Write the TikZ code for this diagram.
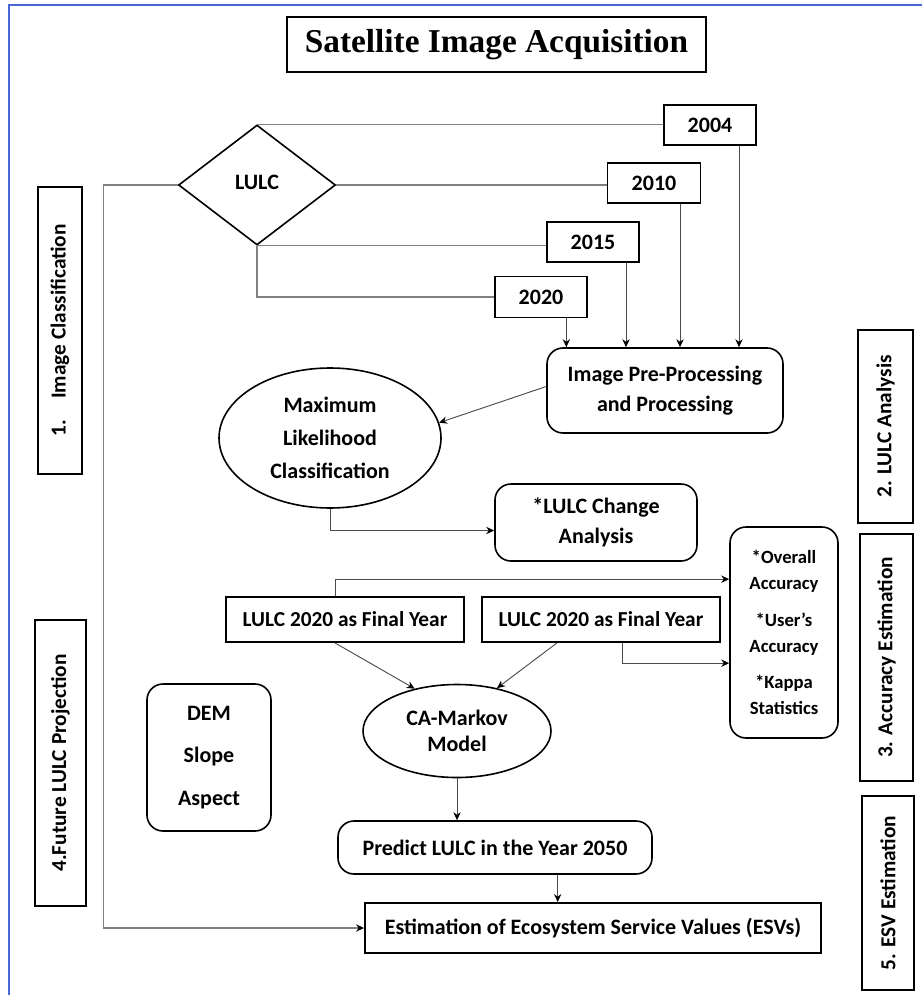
\documentclass[tikz,border=0pt]{standalone}
\usepackage{fontspec}
\setmainfont{Carlito}
\newfontfamily\titlefont{Liberation Serif}
\usetikzlibrary{shapes.geometric,arrows.meta}
\definecolor{framebl}{RGB}{72,104,214}
\newdimen\px
\px=0.75pt

\begin{document}
\begin{tikzpicture}[x=0.75pt,y=-0.75pt,>={Stealth[length=6pt,width=5.5pt,black]},
		box/.style={draw, line width=1.4pt, inner sep=0pt, align=center, font=\fontsize{16.5}{22}\selectfont\bfseries},
		rbox/.style={box, rounded corners=12pt, line width=1.2pt},
		ell/.style={box, ellipse, line width=1.2pt},
		tag/.style={box, rotate=90, line width=1.2pt, font=\fontsize{16}{20}\selectfont\bfseries},
		link/.style={draw=gray, line width=0.9pt},
		arr/.style={draw=black!70, line width=0.7pt, ->}]
		\useasboundingbox (0,0) rectangle (922,995);

		% draw the blue frame
		\draw[framebl, line width=1.5pt] (9,995) -- (9,5) -- (922,5);

		% draw the title
		\node[draw, line width=1.5pt, minimum width=419\px, minimum height=55\px, font=\titlefont\fontsize{25}{30}\selectfont\bfseries] (title) at (496.5,44.5) {Satellite Image Acquisition};

		% draw the lulc diamond and the years
		\node[box, diamond, line width=1.2pt, minimum width=157\px, minimum height=120\px] (lulc) at (257,185) {\raisebox{4pt}{LULC}};
		\node[box, minimum width=92\px, minimum height=40\px] (y2004) at (710,125) {2004};
		\node[box, minimum width=93\px, minimum height=40\px] (y2010) at (654,183) {2010};
		\node[box, minimum width=92\px, minimum height=40\px] (y2015) at (593,242) {2015};
		\node[box, minimum width=92\px, minimum height=41\px] (y2020) at (541,297) {2020};

		% draw the processing steps
		\node[rbox, minimum width=236\px, minimum height=85\px] (prep) at (665,390.5) {Image Pre-Processing\\and Processing};
		\node[ell, minimum width=222\px, minimum height=140\px, font=\fontsize{16.5}{25}\selectfont\bfseries] (mlc) at (330,438) {Maximum\\Likelihood\\Classification};
		\node[rbox, minimum width=202\px, minimum height=77\px] (change) at (596,522.5) {*LULC Change\\Analysis};
		\node[rbox, minimum width=108\px, minimum height=211\px, font=\fontsize{14}{19.5}\selectfont\bfseries] (acc) at (784,632.5) {*Overall\\Accuracy\\[8pt]*User’s\\Accuracy\\[8pt]*Kappa\\Statistics};
		\node[box, minimum width=238\px, minimum height=45\px, font=\fontsize{16}{20}\selectfont\bfseries] (final1) at (345,619.5) {LULC 2020 as Final Year};
		\node[box, minimum width=238\px, minimum height=45\px, font=\fontsize{16}{20}\selectfont\bfseries] (final2) at (601,619.5) {LULC 2020 as Final Year};
		\node[ell, minimum width=188\px, minimum height=93\px, font=\fontsize{16.5}{20}\selectfont\bfseries] (ca) at (457,731) {CA-Markov\\Model};
		\node[rbox, minimum width=124\px, minimum height=147\px, font=\fontsize{16.5}{32}\selectfont\bfseries] (dem) at (209,757.5) {DEM\\Slope\\Aspect};
		\node[rbox, minimum width=314\px, minimum height=53\px] (predict) at (495,847.5) {Predict LULC in the Year 2050};
		\node[box, minimum width=456\px, minimum height=50\px] (estim) at (593,928) {Estimation of Ecosystem Service Values (ESVs)};

		% draw the stage labels on both sides
		\node[tag, minimum width=287\px, minimum height=44\px] (imgcls) at (60,330.5) {1.\quad Image Classification};
		\node[tag, minimum width=286\px, minimum height=51\px] (future) at (60.5,763) {4.Future LULC Projection};
		\node[tag, minimum width=193\px, minimum height=55\px] (lulcana) at (885.5,426.5) {2. LULC Analysis};
		\node[tag, minimum width=247\px, minimum height=53\px] (accest) at (886.5,657.5) {3. Accuracy Estimation};
		\node[tag, minimum width=194\px, minimum height=52\px] (esv) at (888,893) {5. ESV Estimation};

		% draw the lines from the diamond to the years
		\draw[link] (lulc.north) -- (lulc.north -| y2004.west);
		\draw[link] (lulc.east) -- (lulc.east -| y2010.west);
		\draw[link] (lulc.south) -- (lulc.south -| y2015.west);
		\draw[link] (lulc.south) |- (y2020.west);
		\draw[link,->] (lulc.west) -- ++(-74,0) |- (estim.west);

		% draw the arrows down to the processing box
		\draw[arr] ([xshift=19pt]y2020.south) -- ([xshift=19pt]y2020.south |- prep.north);
		\draw[arr] ([xshift=24.75pt]y2015.south) -- ([xshift=24.75pt]y2015.south |- prep.north);
		\draw[arr] ([xshift=19.5pt]y2010.south) -- ([xshift=19.5pt]y2010.south |- prep.north);
		\draw[arr] ([xshift=21.75pt]y2004.south) -- ([xshift=21.75pt]y2004.south |- prep.north);

		% draw the remaining arrows
		\draw[arr] ([yshift=3pt]prep.west) -- (mlc.8);
		\draw[arr] (mlc.south) |- ([yshift=-6pt]change.west);
		\draw[arr] ([xshift=-7.5pt]final1.north) |- ([yshift=40pt]acc.west);
		\draw[arr] ([xshift=15.75pt]final2.south) |- ([yshift=-23pt]acc.west);
		\draw[arr] ([xshift=-7.5pt]final1.south) -- (ca.135);
		\draw[arr] ([xshift=-33pt]final2.south) -- (ca.47);
		\draw[arr] (ca.south) -- (ca.south |- predict.north);
		\draw[arr] ([xshift=47pt]predict.south) -- ([xshift=47pt]predict.south |- estim.north);
	\end{tikzpicture}
\end{document}
